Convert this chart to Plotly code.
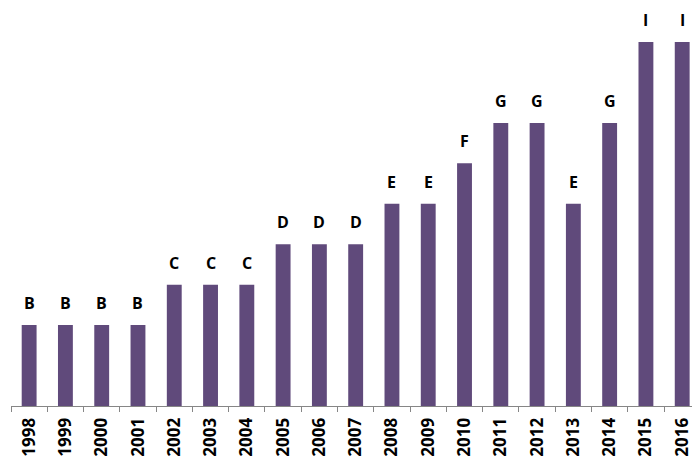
import plotly.graph_objects as go

years = [str(y) for y in range(1998, 2017)]
grades = ["B", "B", "B", "B", "C", "C", "C", "D", "D", "D",
          "E", "E", "F", "G", "G", "E", "G", "I", "I"]
# numeric level for each grade letter (H is not used)
levels = {"B": 2, "C": 3, "D": 4, "E": 5, "F": 6, "G": 7, "H": 8, "I": 9}
values = [levels[g] for g in grades]

bar_color = "#604A7B"
font_family = "Open Sans"

fig = go.Figure(go.Bar(
    x=years, y=values, width=0.41,
    marker=dict(color=bar_color, line=dict(width=0)),
    hoverinfo="skip",
))

# category axes take the position index for annotations
for i, (v, g) in enumerate(zip(values, grades)):
    fig.add_annotation(
        x=i, y=v, xref="x", yref="y", text=f"<b>{g}</b>", showarrow=False,
        yanchor="bottom", yshift=9,
        font=dict(family=font_family, size=16, color="#000000"),
    )

fig.update_layout(
    width=692, height=464,
    margin=dict(l=11, r=0, t=0, b=58),
    paper_bgcolor="white", plot_bgcolor="white",
    showlegend=False,
    xaxis=dict(
        type="category", range=[-0.5, 18.27],
        showline=True, linecolor="#868686", linewidth=1,
        ticks="outside", tickson="boundaries", ticklen=5,
        tickcolor="#868686", tickwidth=1,
        tickangle=-90, showgrid=False, ticklabelstandoff=4,
        tickfont=dict(family=font_family, size=17, color="#000000", weight="bold"),
    ),
    yaxis=dict(
        range=[0, 10.04], visible=False, showgrid=False, zeroline=False,
    ),
)

fig.write_html("out.html")
